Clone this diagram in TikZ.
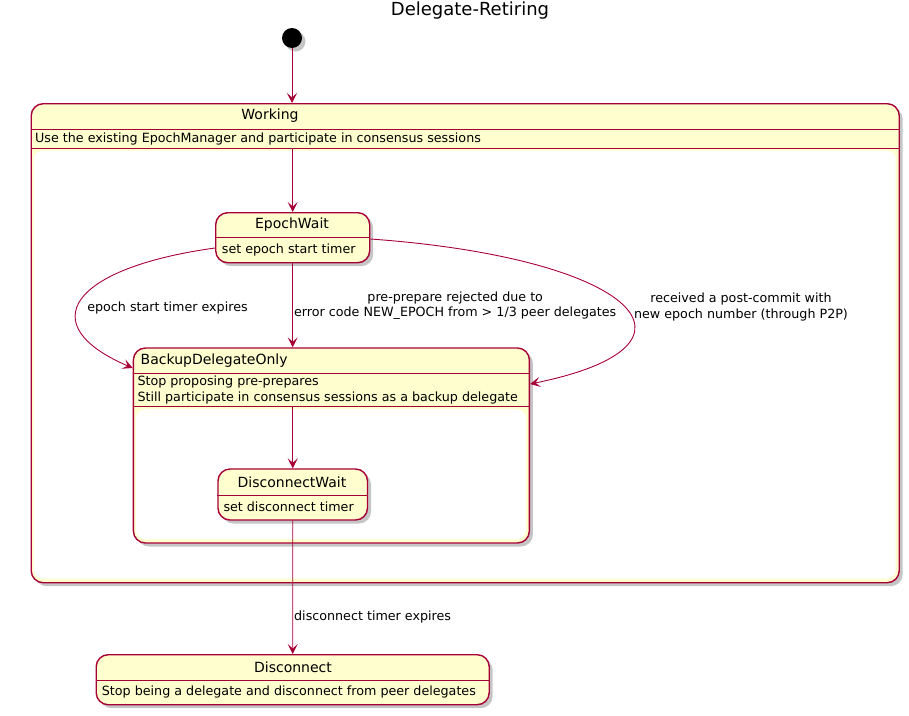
\documentclass[tikz,border=0pt]{standalone}
\usepackage{fontspec}
\setmainfont{DejaVu Sans}
\usetikzlibrary{arrows.meta,shadows}
\definecolor{umlred}{HTML}{A80036}
\definecolor{umlfill}{HTML}{FEFECE}
\begin{document}
\begin{tikzpicture}[x=1pt,y=-1pt,every node/.style={font=\fontsize{12.7}{15.2}\selectfont}]
      \tikzset{state/.style={draw=umlred, fill=umlfill, line width=1.4pt, rounded corners=12pt, anchor=north west, inner sep=0pt,
                 drop shadow={shadow xshift=3.5pt, shadow yshift=-3.5pt, fill=black!45, opacity=.5}},
               body/.style={fill=white, rounded corners=9pt, anchor=north west, inner sep=0pt},
               sep/.style={draw=umlred, line width=1pt},
               sname/.style={font=\fontsize{14}{16}\selectfont, inner sep=0pt},
               desc/.style={anchor=west, align=left, inner sep=0pt},
               trans/.style={draw=umlred, line width=.9pt, -{Stealth[length=10pt,width=10pt,inset=4.5pt]}},
               lbl/.style={align=center, inner sep=0pt}}
      \useasboundingbox (0,0) rectangle (909,715);
%% Title and start
      	\node[font=\fontsize{18}{20}\selectfont] (title) at (470,11) {Delegate-Retiring};
      	\node[circle, fill=black, minimum size=20pt, inner sep=0pt,
      	      drop shadow={shadow xshift=3.5pt, shadow yshift=-3.5pt, fill=black!45, opacity=.5}] (start) at (292,38) {};
%% Working
      	\node[state, minimum width=868pt, minimum height=479pt] (wk) at (30.5,103) {};
      	\node[body, minimum width=862pt, minimum height=428pt] (wkbody) at (33.5,150.5) {};
      	\draw[sep] (wk.west |- 0,129.3) -- (wk.east |- 0,129.3);
      	\draw[sep] (wk.west |- 0,148.3) coordinate (wkout) -- (wk.east |- 0,148.3);
      	\node[sname] (wkname) at (270,116) {Working};
      	\node[desc] (wkdesc) at (35,138.5) {Use the existing EpochManager and participate in consensus sessions};
%% EpochWait
      	\node[state, minimum width=154pt, minimum height=50pt] (ew) at (215,212) {};
      	\draw[sep] (ew.west |- 0,237) -- (ew.east |- 0,237);
      	\node[sname] (ewname) at (292,224.5) {EpochWait};
      	\node[desc] (ewdesc) at (221.7,250) {set epoch start timer};
%% BackupDelegateOnly
      	\node[state, minimum width=396pt, minimum height=195pt] (bd) at (132.7,347.3) {};
      	\node[body, minimum width=390pt, minimum height=130pt] (bdbody) at (135.7,409) {};
      	\draw[sep] (bd.west |- 0,373.3) -- (bd.east |- 0,373.3);
      	\draw[sep] (bd.west |- 0,406.7) -- (bd.east |- 0,406.7);
      	\node[sname, anchor=west] (bdname) at (140.5,360.5) {BackupDelegateOnly};
      	\node[desc] (bddesc) at (137.3,390) {Stop proposing pre-prepares\\Still participate in consensus sessions as a backup delegate};
%% DisconnectWait
      	\node[state, minimum width=149.5pt, minimum height=51pt] (dw) at (217.3,468.3) {};
      	\draw[sep] (dw.west |- 0,495) -- (dw.east |- 0,495);
      	\node[sname] (dwname) at (292,482.5) {DisconnectWait};
      	\node[desc] (dwdesc) at (223.3,506.5) {set disconnect timer};
%% Disconnect
      	\node[state, minimum width=393pt, minimum height=50pt] (dc) at (95.5,654) {};
      	\draw[sep] (dc.west |- 0,680) -- (dc.east |- 0,680);
      	\node[sname] (dcname) at (293,667.5) {Disconnect};
      	\node[desc] (dcdesc) at (101.7,691.7) {Stop being a delegate and disconnect from peer delegates};
%Edges
		\path[trans] (start) -- (start |- wk.north);
		\path[trans] (ew.north |- wkout) -- (ew.north);
		\path[trans] (ew.west |- 0,248) .. controls (70,268) and (32,325) .. (bd.west |- 0,368);
		\path[trans] (ew.south) -- node[lbl, midway, right=1pt] (lblreject) {pre-prepare rejected due to\\error code NEW\_EPOCH from > 1/3 peer delegates} (ew.south |- bd.north);
		\path[trans] (ew.east |- 0,239) .. controls (635,258) and (722,345) .. (bd.east |- 0,384);
		\path[trans] (dw.north |- 0,406.7) -- (dw.north);
		\path[trans] (dw.south) -- node[lbl, pos=0.72, right=1pt] (lbldisc) {disconnect timer expires} (dc.north);
		\node[lbl] (lblexpire) at (167.5,308) {epoch start timer expires};
		\node[lbl] (lblpost) at (741,307) {received a post-commit with\\new epoch number (through P2P)};
	\end{tikzpicture}
\end{document}
